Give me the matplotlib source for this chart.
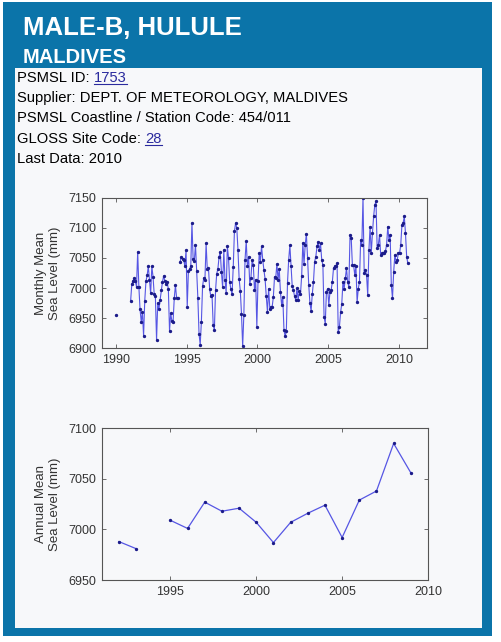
import numpy as np
import matplotlib.pyplot as plt
from matplotlib.patches import Rectangle

# monthly mean sea level (mm), one list of 12 per year, None = missing
years = list(range(1990, 2011))
monthly = [
    [6956, None, None, None, None, None, None, None, None, None, None, None],
    [6978, 7006, 7012, 7016, 7012, 7002, 7060, 7002, 6965, 6944, 6960, 6921],
    [6979, 7011, 7021, 7036, 7013, 6991, 7036, 7019, 6990, 6986, 6914, 6975],
    [6965, 6980, 6996, 7010, 7020, 7012, 7006, 7010, 6998, 6929, 6958, 6945],
    [6944, 6983, 7005, 6983, 6984, None, 7044, 7052, 7048, 7047, 7036, 7063],
    [6969, 7028, 7032, 7036, 7108, 7048, 7045, 7072, 7028, 6984, 6924, 6906],
    [6944, 7003, 7017, 7014, 7074, 7031, 7034, 6998, 6986, 6989, 6939, 6930],
    [6996, 7024, 7032, 7052, 7060, 7026, 7001, 7063, 7014, 6992, 7069, 7050],
    [7010, 6998, 6990, 7035, 7094, 7108, 7100, 7064, 7015, 6995, 6957, 6903],
    [6956, 7047, 7078, 7036, 7052, 7007, 7017, 7047, 7039, 6997, 7014, 6936],
    [7011, 7058, 7044, 7069, 7047, 7030, 7015, 6986, 6961, 6999, 6966, 6969],
    [6969, 6985, 7019, 7016, 7040, 7014, 7032, 6994, 6972, 6985, 6930, 6920],
    [6928, 7009, 7047, 7071, 7036, 7003, 6997, 6986, 6980, 7000, 6980, 6995],
    [6990, 7020, 7075, 7040, 7072, 7090, 7050, 7005, 6975, 6962, 6990, 7010],
    [7044, 7052, 7069, 7077, 7063, 7074, 7047, 7038, 6952, 6941, 6994, 6999],
    [6972, 6994, 6997, 7010, 7033, 7036, 7036, 7041, 6927, 6935, 6960, 6974],
    [7010, 6999, 7016, 7033, 7010, 7002, 7088, 7083, 7038, 7038, 7022, 7036],
    [6977, 6999, 7010, 7080, 7072, 7150, 7025, 7030, 7022, 6988, 7063, 7102],
    [7058, 7091, 7119, 7138, 7144, 7066, 7072, 7088, 7055, 7058, 7058, 7058],
    [7061, 7072, 7102, 7080, 7088, 7005, 6983, 7027, 7055, 7044, 7047, 7058],
    [7058, 7072, 7105, 7108, 7119, 7091, 7052, 7041, None, None, None, None],
]

# annual mean sea level (mm)
ann_years = [1992, 1993, 1994, 1995, 1996, 1997, 1998, 1999, 2000, 2001,
             2002, 2003, 2004, 2005, 2006, 2007, 2008, 2009]
ann_vals = [6988, 6981, None, 7009, 7001, 7027, 7018, 7021, 7007, 6987,
            7007, 7016, 7024, 6992, 7029, 7038, 7085, 7056]

info_lines = [
    ("PSMSL ID: ", "1753"),
    ("Supplier: DEPT. OF METEOROLOGY, MALDIVES", None),
    ("PSMSL Coastline / Station Code: 454/011", None),
    ("GLOSS Site Code: ", "28"),
    ("Last Data: 2010", None),
]

blue = '#0b74a9'
panel = '#f7f8fa'
line_c = '#5656e4'
dot_c = '#1c1c8a'

plt.rcParams['font.family'] = ['Liberation Sans', 'DejaVu Sans']

W, H = 501, 642
fig = plt.figure(figsize=(W / 100, H / 100), dpi=100)
fig.patch.set_facecolor('white')

def px(x, y):
    return x / W, 1 - y / H

# blue frame and white inner panel
fig.patches.append(Rectangle(px(3, 636), 489 / W, 634 / H, transform=fig.transFigure,
                             facecolor=blue, edgecolor='none', zorder=-10))
fig.patches.append(Rectangle(px(15, 628), 467 / W, 560 / H, transform=fig.transFigure,
                             facecolor=panel, edgecolor='none', zorder=-9))

fig.text(*px(23, 35), "MALE-B, HULULE", color='white', fontsize=18.5,
         fontweight='bold', va='baseline')
fig.text(*px(23, 63), "MALDIVES", color='white', fontsize=14.5,
         fontweight='bold', va='baseline')

renderer = fig.canvas.get_renderer()
for i, (txt, link) in enumerate(info_lines):
    yb = 82 + i * 20.2
    t = fig.text(*px(17, yb), txt, fontsize=10.6, color='black', va='baseline')
    if link:
        bb = t.get_window_extent(renderer)
        x1 = bb.x1
        lt = fig.text(x1 / W, 1 - yb / H, link, fontsize=10.6, color='#2b2b9e',
                      va='baseline')
        lb = lt.get_window_extent(renderer)
        fig.add_artist(plt.Line2D([lb.x0 / W, lb.x1 / W], [1 - (yb + 2) / H] * 2,
                                  color='#2b2b9e', lw=0.8, transform=fig.transFigure))

# monthly series
mx, my = [], []
for y, row in zip(years, monthly):
    for m, v in enumerate(row):
        mx.append(y + (m + 0.5) / 12)
        my.append(np.nan if v is None else v)
mx = np.array(mx)
my = np.array(my)

ax1 = fig.add_axes([101.7 / W, 1 - 348.3 / H, 325.6 / W, 150.6 / H])
ax2 = fig.add_axes([101.7 / W, 1 - 580 / H, 326.3 / W, 151.7 / H])

for ax in (ax1, ax2):
    ax.set_facecolor(panel)
    for s in ax.spines.values():
        s.set_color('#555555')
        s.set_linewidth(0.8)
    ax.tick_params(direction='in', length=3, width=0.6, color='#555555',
                   labelsize=9, labelcolor='#333333', top=True, right=True, pad=4)

ax1.plot(mx, my, '-', color=line_c, lw=0.8)
ax1.plot(mx, my, '.', color=dot_c, ms=2.8)
ax1.set_xlim(1989, 2012)
ax1.set_ylim(6900, 7150)
ax1.set_xticks([1990, 1995, 2000, 2005, 2010])
ax1.set_yticks(np.arange(6900, 7151, 50))
ax1.set_ylabel("Monthly Mean\nSea Level (mm)", fontsize=9.5, color='#333333', labelpad=5)

av = np.array([np.nan if v is None else v for v in ann_vals], dtype=float)
ax2.plot(ann_years, av, '-', color=line_c, lw=0.9)
ax2.plot(ann_years, av, '.', color=dot_c, ms=2.8)
ax2.set_xlim(1991, 2010)
ax2.set_ylim(6950, 7100)
ax2.set_xticks([1995, 2000, 2005, 2010])
ax2.set_yticks([6950, 7000, 7050, 7100])
ax2.set_ylabel("Annual Mean\nSea Level (mm)", fontsize=9.5, color='#333333', labelpad=5)

fig.savefig('out.png', dpi=100, facecolor=fig.get_facecolor())
